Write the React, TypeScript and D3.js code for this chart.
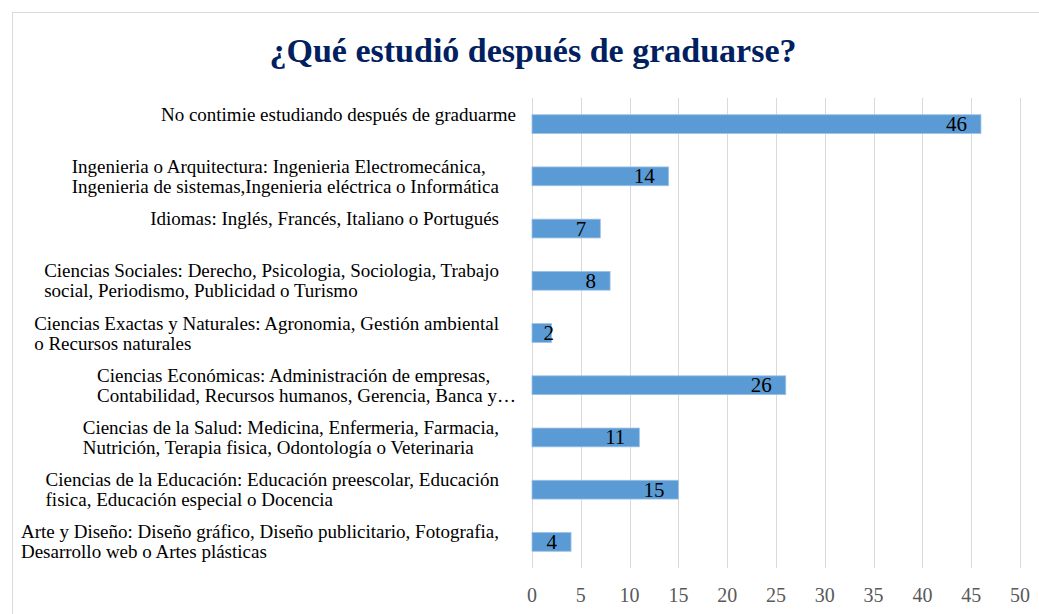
import React, { useEffect, useRef } from 'react';
import * as d3 from 'd3';

const categories = [
  'No contimie estudiando después de graduarme',
  'Ingenieria o Arquitectura: Ingenieria Electromecánica,\nIngenieria de sistemas,Ingenieria eléctrica o Informática',
  'Idiomas: Inglés, Francés, Italiano o Portugués',
  'Ciencias Sociales: Derecho, Psicologia, Sociologia, Trabajo\nsocial, Periodismo, Publicidad o Turismo',
  'Ciencias Exactas y Naturales: Agronomia, Gestión ambiental\no Recursos naturales',
  'Ciencias Económicas: Administración de empresas,\nContabilidad, Recursos humanos, Gerencia, Banca y…',
  'Ciencias de la Salud: Medicina, Enfermeria, Farmacia,\nNutrición, Terapia fisica, Odontología o Veterinaria',
  'Ciencias de la Educación: Educación preescolar, Educación\nfisica, Educación especial o Docencia',
  'Arte y Diseño: Diseño gráfico, Diseño publicitario, Fotografia,\nDesarrollo web o Artes plásticas',
];
const values = [46, 14, 7, 8, 2, 26, 11, 15, 4];
const xTicks = [0, 5, 10, 15, 20, 25, 30, 35, 40, 45, 50];
const title = '¿Qué estudió después de graduarse?';

const W = 1039;
const H = 614;
const FONT = '"Liberation Serif", "Times New Roman", serif';

const App: React.FC = () => {
  const svgRef = useRef<SVGSVGElement>(null);

  useEffect(() => {
    if (!svgRef.current) return;
    const svg = d3.select(svgRef.current);
    svg.selectAll('*').remove();

    const x = d3.scaleLinear().domain([0, 50]).range([532, 1020]);
    const y = d3.scaleBand<string>().domain(categories).range([98, 568])
      .paddingInner(0.64).paddingOuter(0.32);

    // chart frame
    svg.append('rect')
      .attr('x', 12.5).attr('y', 12.5)
      .attr('width', W).attr('height', H)
      .attr('fill', '#fff').attr('stroke', '#d9d9d9');

    svg.append('text')
      .attr('x', 533).attr('y', 50)
      .attr('text-anchor', 'middle').attr('dominant-baseline', 'central')
      .attr('font-family', FONT).attr('font-weight', 'bold').attr('font-size', 34)
      .attr('fill', '#002060')
      .text(title);

    // vertical gridlines
    svg.append('g').selectAll('line').data(xTicks).enter().append('line')
      .attr('x1', d => Math.round(x(d)) + 0.5).attr('x2', d => Math.round(x(d)) + 0.5)
      .attr('y1', 98).attr('y2', 568)
      .attr('stroke', '#d9d9d9').attr('stroke-width', 1);

    svg.append('g').selectAll('text').data(xTicks).enter().append('text')
      .attr('x', d => x(d)).attr('y', 595)
      .attr('text-anchor', 'middle').attr('dominant-baseline', 'central')
      .attr('font-family', FONT).attr('font-size', 20).attr('fill', '#595959')
      .text(d => d);

    // bars
    svg.append('g').selectAll('rect').data(values).enter().append('rect')
      .attr('x', x(0))
      .attr('y', (_, i) => y(categories[i])!)
      .attr('width', d => x(d) - x(0))
      .attr('height', y.bandwidth())
      .attr('fill', '#5b9bd5')
      .attr('stroke', '#9dc3e6').attr('stroke-width', 0.8);

    // data labels, inside end
    svg.append('g').selectAll('text').data(values).enter().append('text')
      .attr('x', d => Math.max(x(d) - 14, x(0) + 22))
      .attr('y', (_, i) => y(categories[i])! + y.bandwidth() / 2)
      .attr('text-anchor', 'end').attr('dominant-baseline', 'central')
      .attr('font-family', FONT).attr('font-size', 21).attr('fill', '#000')
      .text(d => d);

    // category labels: lines left aligned, block right aligned
    const labels = svg.append('g');
    categories.forEach((c, i) => {
      const cy = y(c)! + y.bandwidth() / 2;
      const lines = c.split('\n');
      const g = labels.append('g');
      const texts = lines.map((ln, j) =>
        g.append('text')
          .attr('y', cy - 10 + j * 20)
          .attr('dominant-baseline', 'central')
          .attr('font-family', FONT).attr('font-size', 19).attr('fill', '#000')
          .text(ln)
      );
      const widths = texts.map(t => (t.node() as SVGTextElement).getComputedTextLength());
      const right = i === 0 || i === 5 ? 516 : 499;
      const left = right - (d3.max(widths) ?? 0);
      texts.forEach(t => t.attr('x', left));
    });
  }, []);

  return (
    <svg
      ref={svgRef}
      width={W}
      height={H}
      style={{ position: 'absolute', left: 0, top: 0, background: '#fff' }}
    />
  );
};

export default App;
